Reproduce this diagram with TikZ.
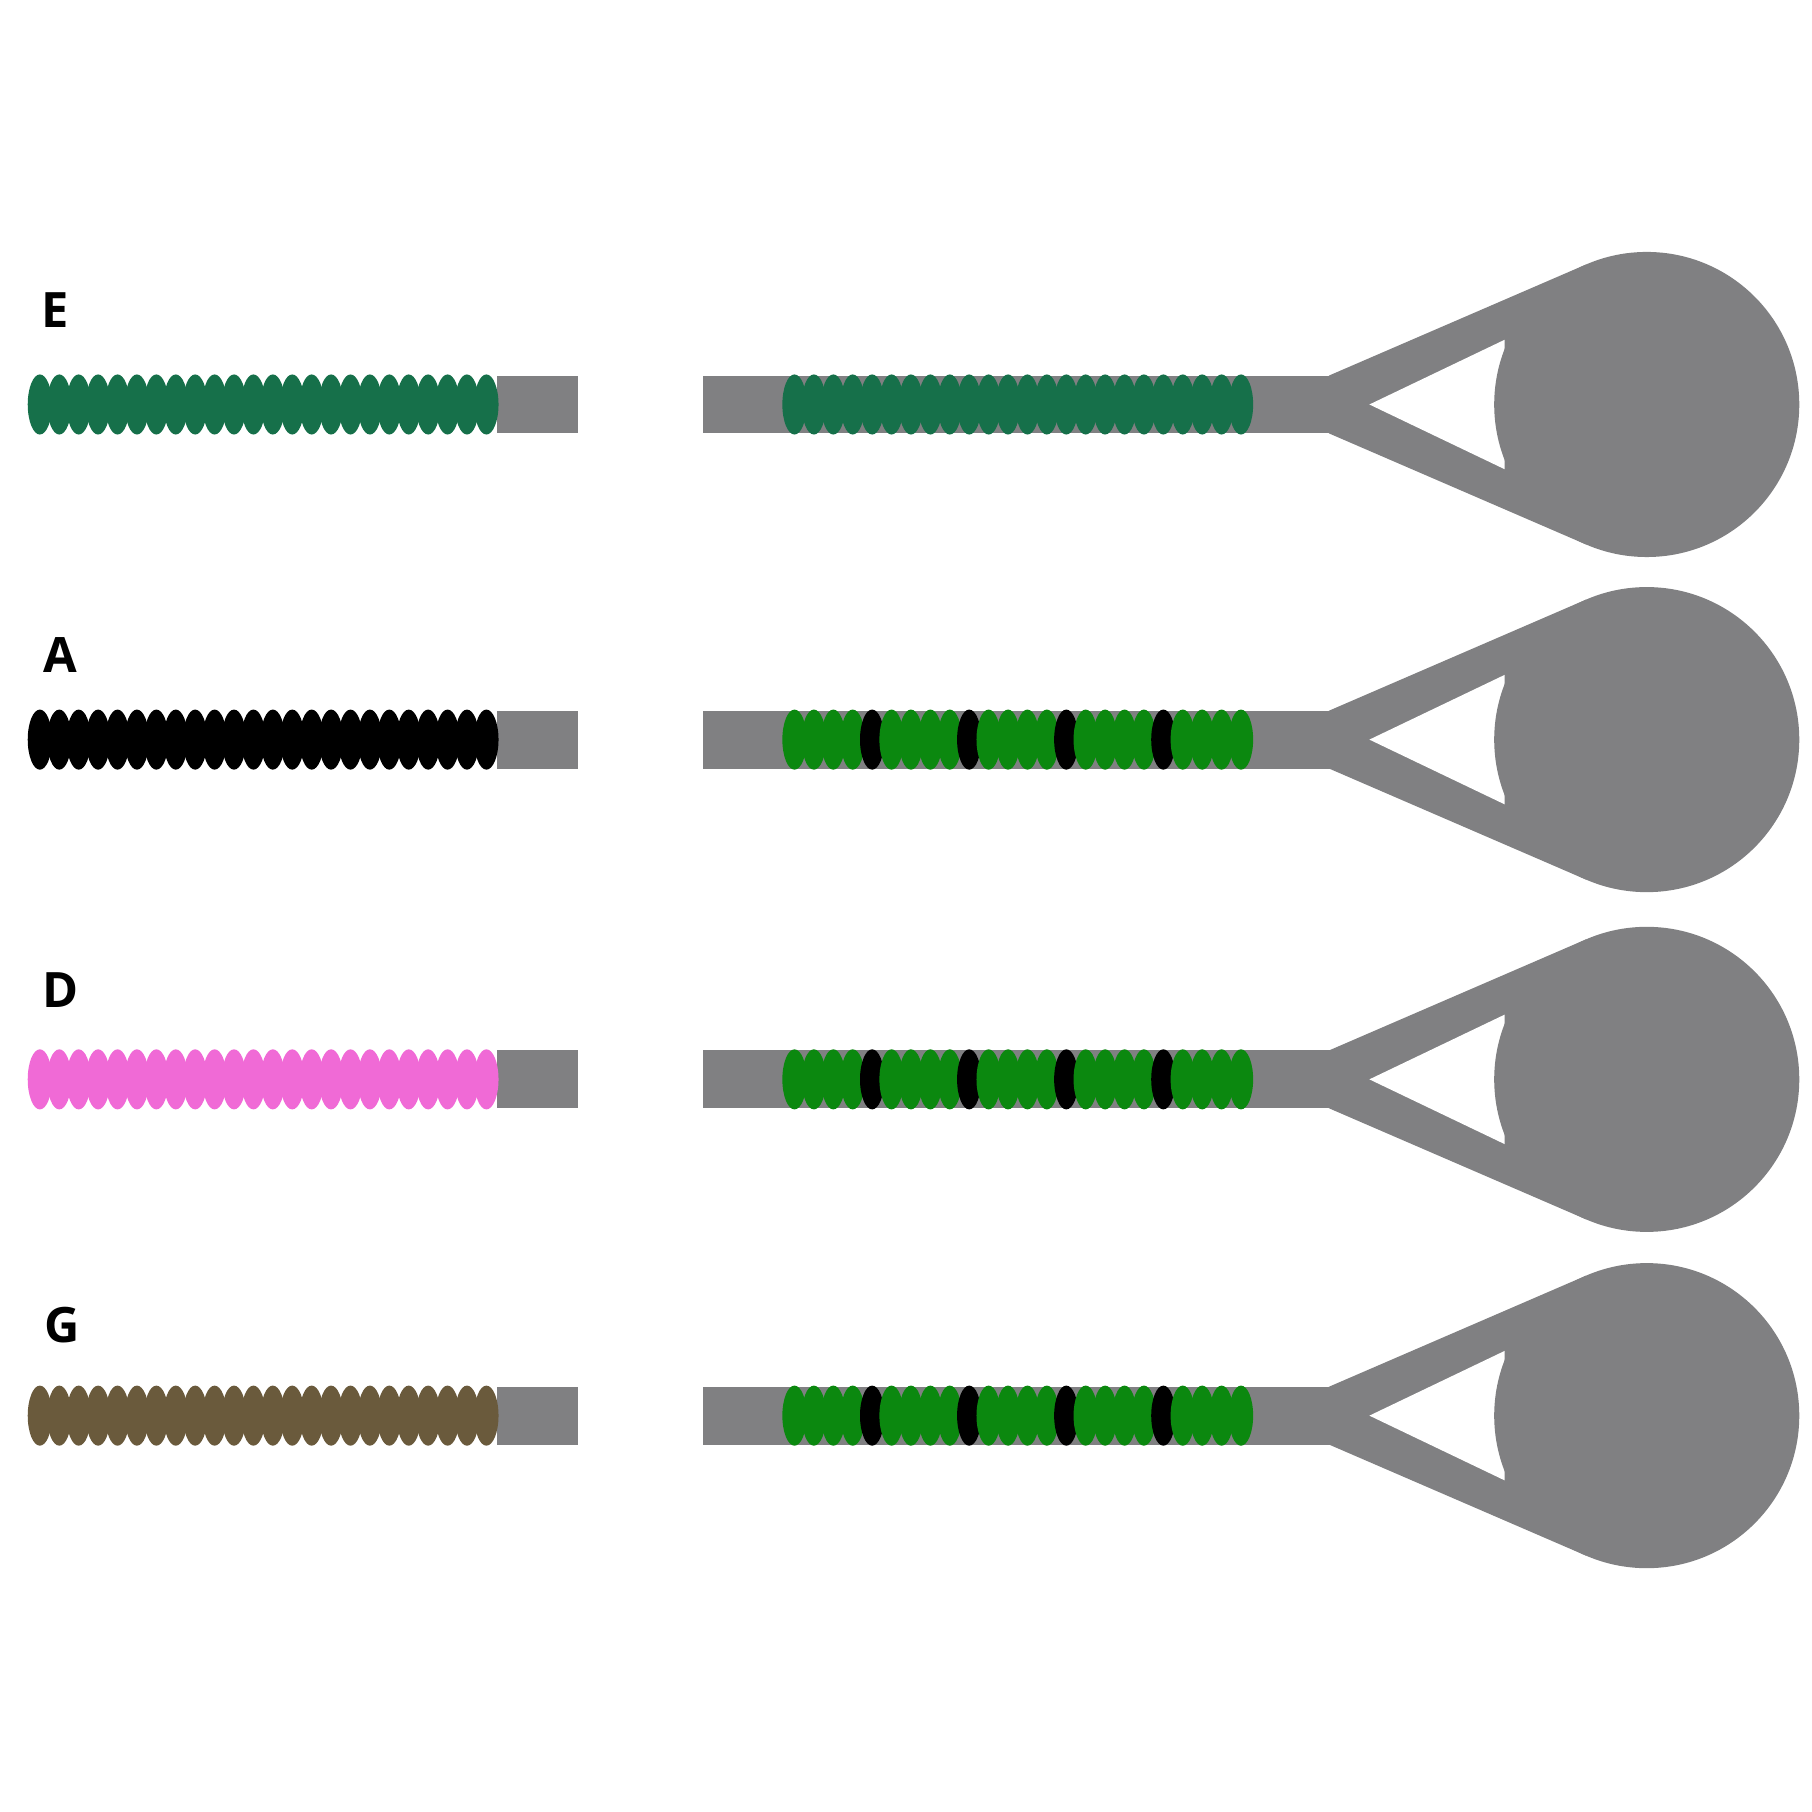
\documentclass[tikz,border=0pt]{standalone}
\usepackage{tikz}
\usepackage{fontspec}
\setmainfont{Open Sans}
\definecolor{rod}{HTML}{808082}
\definecolor{egreen}{HTML}{16704A}
\definecolor{bgreen}{HTML}{0B880F}
\definecolor{pinkb}{HTML}{F06AD6}
\definecolor{brownb}{HTML}{6A5A3C}
\tikzset{
    bar/.style={fill=rod},
    lbl/.style={font=\fontsize{12}{14}\selectfont\bfseries, anchor=center}
}
% one row: y, colour of left beads, 1 = banded right beads
\newcommand{\beadrow}[3]{%
  \fill[rod] (430,#1+25) rectangle (500,#1-25);
  \fill[rod] (608,#1+25) rectangle (1160,#1-25);
  \foreach \i in {0,...,23}
    \fill[#2] (34.5+\i*16.8,#1) ellipse (10.5 and 26);
  \foreach \i in {0,...,23}{
    \pgfmathtruncatemacro{\k}{mod(\i,5)}
    \ifnum#3=1
      \ifnum\k=4 \def\bc{black}\else\def\bc{bgreen}\fi
    \else \def\bc{egreen}\fi
    \fill[\bc] (687.5+\i*16.8,#1) ellipse (10.5 and 26);}
  \fill[rod] (1150,#1+25) -- (1372.6,#1+121.2) -- (1372.6,#1-121.2) -- (1150,#1-25) -- cycle;
  \fill[white] (1185,#1) -- (1302,#1+56) -- (1302,#1-56) -- cycle;
  \fill[rod] (1425,#1) circle (132);
}
\begin{document}
\begin{tikzpicture}[x=0.01cm, y=-0.01cm]
  \fill[white] (0,0) rectangle (1568,1568);
  \beadrow{350}{egreen}{0}
  \beadrow{640}{black}{1}
  \beadrow{934}{pinkb}{1}
  \beadrow{1225}{brownb}{1}
  \node[lbl] (labE) at (48,268) {E};
  \node[lbl] (labA) at (52,567) {A};
  \node[lbl] (labD) at (52,857) {D};
  \node[lbl] (labG) at (54,1147) {G};
\end{tikzpicture}
\end{document}
